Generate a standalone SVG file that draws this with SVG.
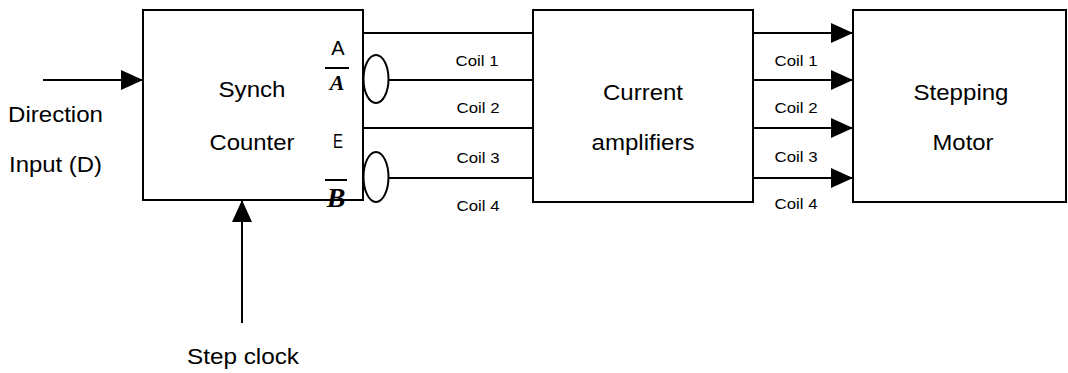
<svg xmlns="http://www.w3.org/2000/svg" width="1068" height="373" viewBox="0 0 1068 373">
  <style>
    .box { fill: #ffffff; stroke: #000000; stroke-width: 2; }
    .wire { fill: none; stroke: #000000; stroke-width: 2; }
    .lbl { font-family: "Liberation Sans", Arial, sans-serif; font-size: 22px; fill: #000000; }
    .coil { font-family: "Liberation Sans", Arial, sans-serif; font-size: 14px; fill: #000000; }
    .sig { font-family: "Liberation Sans", Arial, sans-serif; font-size: 20px; fill: #000000; }
    .sigb { font-family: "Liberation Serif", "Times New Roman", serif; font-style: italic; font-weight: bold; fill: #000000; }
    .bar { stroke: #000000; stroke-width: 2; }
  </style>
  <defs>
    <marker id="arr" markerUnits="userSpaceOnUse" markerWidth="22" markerHeight="20" refX="22" refY="10" orient="auto">
      <path d="M0,0 L22,10 L0,20 Z" fill="#000000"/>
    </marker>
  </defs>
  <rect width="1068" height="373" fill="#ffffff"/>

  <g id="connectors">
    <line class="wire" x1="43" y1="80" x2="143" y2="80" marker-end="url(#arr)"/>
    <line class="wire" x1="242" y1="323" x2="242" y2="200" marker-end="url(#arr)"/>
    <line class="wire" x1="363" y1="33" x2="533" y2="33"/>
    <ellipse class="wire" cx="376" cy="79" rx="12.5" ry="24"/>
    <line class="wire" x1="388.5" y1="80" x2="533" y2="80"/>
    <line class="wire" x1="363" y1="128" x2="533" y2="128"/>
    <ellipse class="wire" cx="376" cy="177" rx="12.5" ry="25"/>
    <line class="wire" x1="388.5" y1="178" x2="533" y2="178"/>
    <line class="wire" x1="753" y1="33" x2="853" y2="33" marker-end="url(#arr)"/>
    <line class="wire" x1="753" y1="80" x2="853" y2="80" marker-end="url(#arr)"/>
    <line class="wire" x1="753" y1="128" x2="853" y2="128" marker-end="url(#arr)"/>
    <line class="wire" x1="753" y1="178" x2="853" y2="178" marker-end="url(#arr)"/>
    <text class="coil" x="477" y="66" text-anchor="middle" textLength="43" lengthAdjust="spacingAndGlyphs">Coil  1</text>
    <text class="coil" x="478" y="113" text-anchor="middle" textLength="43" lengthAdjust="spacingAndGlyphs">Coil  2</text>
    <text class="coil" x="478" y="163" text-anchor="middle" textLength="43" lengthAdjust="spacingAndGlyphs">Coil  3</text>
    <text class="coil" x="478" y="211" text-anchor="middle" textLength="43" lengthAdjust="spacingAndGlyphs">Coil  4</text>
    <text class="coil" x="796" y="66" text-anchor="middle" textLength="43" lengthAdjust="spacingAndGlyphs">Coil  1</text>
    <text class="coil" x="796" y="113" text-anchor="middle" textLength="43" lengthAdjust="spacingAndGlyphs">Coil  2</text>
    <text class="coil" x="796" y="162" text-anchor="middle" textLength="43" lengthAdjust="spacingAndGlyphs">Coil  3</text>
    <text class="coil" x="796" y="209" text-anchor="middle" textLength="43" lengthAdjust="spacingAndGlyphs">Coil  4</text>
  </g>

  <g id="direction-input">
    <text class="lbl" x="8" y="122" textLength="95" lengthAdjust="spacingAndGlyphs">Direction</text>
    <text class="lbl" x="9" y="172" textLength="93" lengthAdjust="spacingAndGlyphs">Input (D)</text>
  </g>

  <g id="step-clock">
    <text class="lbl" x="243" y="364" text-anchor="middle" textLength="112" lengthAdjust="spacingAndGlyphs">Step clock</text>
  </g>

  <g id="synch-counter">
    <rect class="box" x="143" y="10" width="220" height="190"/>
    <text class="lbl" x="252" y="97" text-anchor="middle" textLength="67" lengthAdjust="spacingAndGlyphs">Synch</text>
    <text class="lbl" x="252" y="150" text-anchor="middle" textLength="85" lengthAdjust="spacingAndGlyphs">Counter</text>
    <text class="sig" x="338" y="55" text-anchor="middle">A</text>
    <line class="bar" x1="325" y1="68" x2="349" y2="68"/>
    <text class="sigb" x="337" y="90" text-anchor="middle" font-size="22">A</text>
    <text class="sig" x="338" y="148" text-anchor="middle" textLength="10" lengthAdjust="spacingAndGlyphs">E</text>
    <line class="bar" x1="325" y1="180" x2="347" y2="180"/>
    <text class="sigb" x="336" y="207" text-anchor="middle" font-size="28">B</text>
  </g>

  <g id="current-amplifiers">
    <rect class="box" x="533" y="10" width="220" height="192"/>
    <text class="lbl" x="643" y="100" text-anchor="middle" textLength="80" lengthAdjust="spacingAndGlyphs">Current</text>
    <text class="lbl" x="643" y="150" text-anchor="middle" textLength="103" lengthAdjust="spacingAndGlyphs">amplifiers</text>
  </g>

  <g id="stepping-motor">
    <rect class="box" x="853" y="10" width="213" height="192"/>
    <text class="lbl" x="961" y="100" text-anchor="middle" textLength="95" lengthAdjust="spacingAndGlyphs">Stepping</text>
    <text class="lbl" x="963" y="150" text-anchor="middle" textLength="61" lengthAdjust="spacingAndGlyphs">Motor</text>
  </g>
</svg>
